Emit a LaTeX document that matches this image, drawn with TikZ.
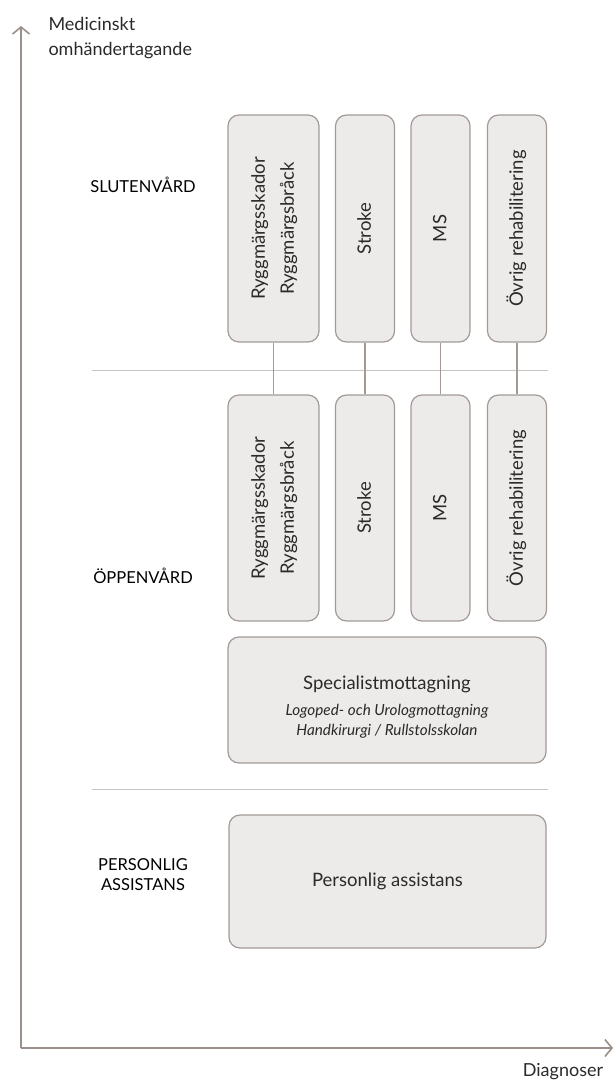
\documentclass[tikz,border=0pt]{standalone}
\usepackage{fontspec}
\setmainfont{Lato}
\usetikzlibrary{arrows.meta}
\definecolor{axisc}{HTML}{9A8F8A}
\definecolor{boxfill}{HTML}{EDEBE9}
\definecolor{boxline}{HTML}{A39A96}
\definecolor{sepc}{HTML}{C8C4C2}
\definecolor{txt}{HTML}{2A2A2A}
\tikzset{
  box/.style={draw=boxline, fill=boxfill, line width=1.2pt, rounded corners=11pt, inner sep=0pt, text=txt, font=\fontsize{18.5}{29}\selectfont},
  conn/.style={draw=boxline, line width=1.2pt},
  sep/.style={draw=sepc, line width=1pt},
  axis/.style={draw=axisc, line width=1.6pt},
  cat/.style={text=black, font=\fontsize{16.5}{20}\selectfont, align=center},
  axlabel/.style={text=txt, font=\fontsize{18}{25}\selectfont, align=left}
}
\newcommand{\rot}[1]{\rotatebox{90}{\begin{tabular}{@{}c@{}}#1\end{tabular}}}
\newcommand{\subt}{\fontsize{15.3}{20}\selectfont\itshape}
\begin{document}
\begin{tikzpicture}[x=1pt,y=-1pt]
\useasboundingbox (0,0) rectangle (614,1084);
% axes
\coordinate (origin) at (21,1048);
\coordinate (ytop) at (21,26);
\coordinate (xend) at (613,1048);
\draw[axis, -{Straight Barb[length=7pt,width=17pt]}] (origin) -- (ytop);
\draw[axis, -{Straight Barb[length=7pt,width=17pt]}] (origin) -- (xend);
\node[axlabel, anchor=north west] (ylab) at (45,14) {Medicinskt\\omhändertagande};
\node[axlabel, anchor=north] (xlab) at (563,1060) {Diagnoser};
% separators
\coordinate (s1a) at (92,370); \coordinate (s1b) at (548,370);
\coordinate (s2a) at (92,789); \coordinate (s2b) at (548,789);
\draw[sep] (s1a) -- (s1b);
\draw[sep] (s2a) -- (s2b);
% category labels
\node[cat] (slut) at (143,185) {SLUTENVÅRD};
\node[cat] (oppen) at (143,576) {ÖPPENVÅRD};
\node[cat] (pers) at (143,875) {PERSONLIG\\ASSISTANS};
% top boxes
\node[box, minimum width=91pt, minimum height=227pt] (t1) at (273.5,228.5) {\rot{Ryggmärgsskador\\Ryggmärgsbråck}};
\node[box, minimum width=59pt, minimum height=227pt] (t2) at (365,228.5) {\rot{Stroke}};
\node[box, minimum width=59pt, minimum height=227pt] (t3) at (440.5,228.5) {\rot{MS}};
\node[box, minimum width=59pt, minimum height=227pt] (t4) at (517,228.5) {\rot{Övrig rehabilitering}};
% bottom boxes
\node[box, minimum width=91pt, minimum height=226pt] (b1) at (273.5,508) {\rot{Ryggmärgsskador\\Ryggmärgsbråck}};
\node[box, minimum width=59pt, minimum height=226pt] (b2) at (365,508) {\rot{Stroke}};
\node[box, minimum width=59pt, minimum height=226pt] (b3) at (440.5,508) {\rot{MS}};
\node[box, minimum width=59pt, minimum height=226pt] (b4) at (517,508) {\rot{Övrig rehabilitering}};
% connectors
\draw[conn] (t1.south) -- (b1.north);
\draw[conn] (t2.south) -- (b2.north);
\draw[conn] (t3.south) -- (b3.north);
\draw[conn] (t4.south) -- (b4.north);
% specialist
\node[box, minimum width=318pt, minimum height=126pt, align=center] (spec) at (387,700)
  {\rule{0pt}{28pt}Specialistmottagning\\[-3pt]\subt Logoped- och Urologmottagning\\[-9pt]\subt Handkirurgi / Rullstolsskolan};
% personlig assistans
\node[box, minimum width=317pt, minimum height=133pt] (pa) at (387.5,881.5) {Personlig assistans};
\end{tikzpicture}
\end{document}
